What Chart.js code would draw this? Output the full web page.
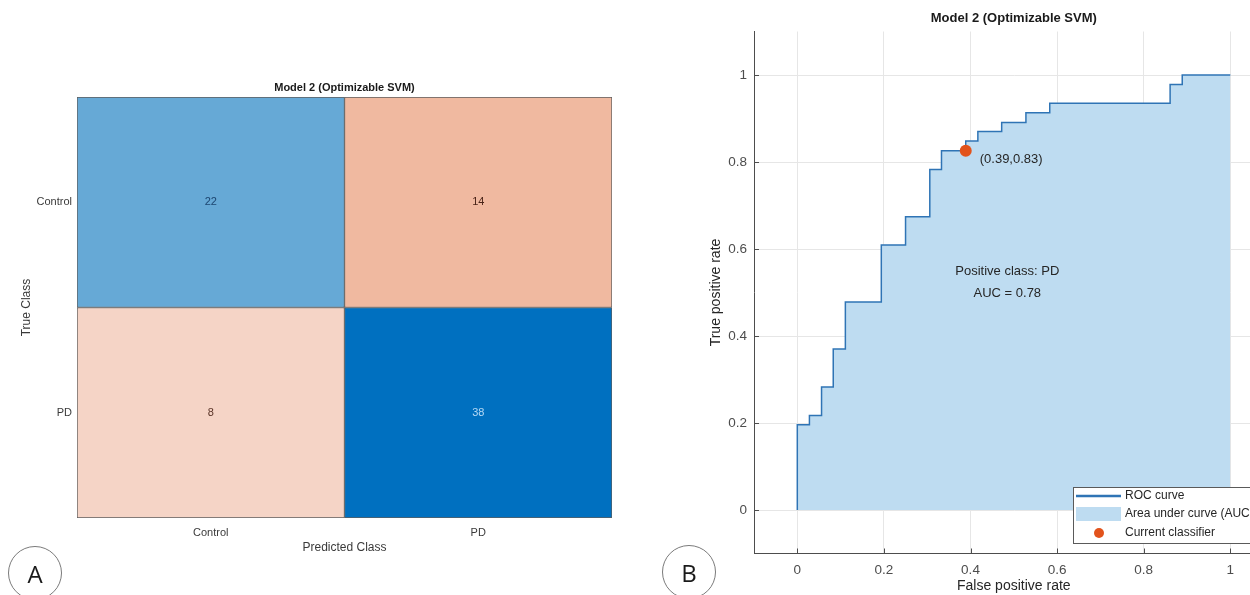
<!DOCTYPE html>
<html>
<head>
<meta charset="utf-8">
<script src="https://cdn.jsdelivr.net/npm/chart.js@4/dist/chart.umd.min.js"></script>
<style>
  html, body { margin: 0; padding: 0; width: 1250px; height: 595px; overflow: hidden; background: #fff; }
  #cmWrap { position: absolute; left: 0; top: 0; width: 640px; height: 595px; }
  #rocWrap { position: absolute; left: 690px; top: 0; width: 600px; height: 595px; }
  .tag {
    position: absolute; width: 54px; height: 54px; box-sizing: border-box;
    border: 1px solid #7a7a7a; border-radius: 50%;
    font: 24px "Open Sans", "Noto Sans", sans-serif; color: #1a1a1a;
    display: flex; align-items: center; justify-content: center;
  }
</style>
</head>
<body>
<div id="cmWrap"><canvas id="cm" width="640" height="595"></canvas></div>
<div id="rocWrap"><canvas id="roc" width="600" height="595"></canvas></div>
<div class="tag" style="left:8px;top:546px;">A</div>
<div class="tag" style="left:662px;top:545px;">B</div>

<script>
// ---------- data ----------
const classNames = ['Control', 'PD'];
// confusion matrix rows = true class, columns = predicted class
const trueControlCounts = [22, 14];
const truePDCounts = [8, 38];

// ROC curve corners (stepped), positive class PD
const rocFPR = [0, 0, 0.028, 0.056, 0.083, 0.111, 0.194, 0.25, 0.306, 0.333, 0.389, 0.417, 0.472, 0.528, 0.583, 0.861, 0.889, 1];
const rocTPR = [0, 0.196, 0.217, 0.283, 0.370, 0.478, 0.609, 0.674, 0.783, 0.826, 0.848, 0.870, 0.891, 0.913, 0.935, 0.978, 1, 1];
const currentFPR = 0.389;
const currentTPR = 0.826;
const aucValue = 0.78;
const positiveClass = 'PD';
const rocTicks = [0, 0.2, 0.4, 0.6, 0.8, 1];
const rocTickLabels = ['0', '0.2', '0.4', '0.6', '0.8', '1'];

const chartTitle = 'Model 2 (Optimizable SVM)';

// ---------- styles ----------
const FONT = '"Liberation Sans", Arial, Helvetica, sans-serif';
const cellColors = [['#66a9d6', '#f0b9a0'], ['#f5d4c6', '#0070c0']];
const cellTextColors = [['#1d4670', '#4a2418'], ['#5a3428', '#b4d8f4']];

Chart.defaults.font.family = FONT;

// ---------- confusion matrix ----------
const countRows = [trueControlCounts, truePDCounts];
const nCls = classNames.length;

const cellText = {
  id: 'cellText',
  afterDatasetsDraw(chart) {
    const ctx = chart.ctx;
    ctx.save();
    ctx.font = '11px ' + FONT;
    ctx.textAlign = 'center';
    ctx.textBaseline = 'middle';
    chart.data.datasets.forEach((ds, r) => {
      chart.getDatasetMeta(r).data.forEach((bar, c) => {
        const p = bar.getCenterPoint();
        ctx.fillStyle = cellTextColors[r][c];
        ctx.fillText(String(countRows[r][c]), p.x, p.y);
      });
    });
    const a = chart.chartArea;
    ctx.font = 'bold 11px ' + FONT;
    ctx.fillStyle = '#1a1a1a';
    ctx.textBaseline = 'alphabetic';
    ctx.fillText(chartTitle, (a.left + a.right) / 2, a.top - 6);
    ctx.restore();
  }
};

new Chart(document.getElementById('cm'), {
  type: 'bar',
  data: {
    labels: classNames,
    datasets: classNames.map((name, r) => ({
      label: name,
      data: classNames.map(() => [nCls - 1 - r, nCls - r]),
      backgroundColor: cellColors[r],
      borderColor: '#5e5e5e',
      borderWidth: 1,
      borderSkipped: false,
      barPercentage: 1,
      categoryPercentage: 1,
      grouped: false
    }))
  },
  options: {
    responsive: false,
    animation: false,
    events: [],
    layout: { padding: { left: 0, top: 97, right: 28, bottom: 0 } },
    plugins: { legend: { display: false }, tooltip: { enabled: false } },
    scales: {
      x: {
        type: 'category',
        grid: { display: false, drawTicks: false },
        border: { display: false },
        ticks: { color: '#3a3a3a', font: { size: 11 }, padding: 8 },
        title: { display: true, text: 'Predicted Class', color: '#3a3a3a', font: { size: 12 }, padding: { top: 0, bottom: 40 } },
        afterFit: s => { s.height = 77; }
      },
      y: {
        type: 'linear', min: 0, max: nCls,
        grid: { display: false, drawTicks: false },
        border: { display: false },
        afterBuildTicks: s => { s.ticks = classNames.map((_, i) => ({ value: nCls - 0.5 - i })); },
        ticks: { color: '#3a3a3a', font: { size: 11 }, padding: 5, callback: (v, i) => classNames[i] },
        title: { display: true, text: 'True Class', color: '#3a3a3a', font: { size: 12 }, padding: { top: 19 } },
        afterFit: s => { s.width = 77; }
      }
    }
  },
  plugins: [cellText]
});

// ---------- ROC curve ----------
const rocPoints = rocFPR.map((x, i) => ({ x: x, y: rocTPR[i] }));
const lineColor = '#2f74b5';
const areaColor = '#bedcf1';
const markerColor = '#e2531c';

const rocExtras = {
  id: 'rocExtras',
  afterDraw(chart) {
    const ctx = chart.ctx;
    const xs = chart.scales.x, ys = chart.scales.y;
    const a = chart.chartArea;
    ctx.save();

    // inward tick marks
    ctx.strokeStyle = '#4d4d4d';
    ctx.lineWidth = 1;
    ctx.beginPath();
    rocTicks.forEach(v => {
      const px = Math.round(xs.getPixelForValue(v)) + 0.5;
      ctx.moveTo(px, a.bottom); ctx.lineTo(px, a.bottom - 5);
      const py = Math.round(ys.getPixelForValue(v)) + 0.5;
      ctx.moveTo(a.left, py); ctx.lineTo(a.left + 5, py);
    });
    ctx.stroke();

    // title
    ctx.fillStyle = '#1a1a1a';
    ctx.font = 'bold 13px ' + FONT;
    ctx.textAlign = 'center';
    ctx.textBaseline = 'middle';
    ctx.fillText(chartTitle, (a.left + a.right) / 2, 18);

    // operating point label
    ctx.font = '13px ' + FONT;
    ctx.fillStyle = '#262626';
    ctx.textAlign = 'left';
    const mx = xs.getPixelForValue(currentFPR), my = ys.getPixelForValue(currentTPR);
    ctx.fillText('(' + currentFPR.toFixed(2) + ',' + currentTPR.toFixed(2) + ')', mx + 14, my + 9);

    // positive class & AUC
    ctx.textAlign = 'center';
    const cx = xs.getPixelForValue(0.485);
    ctx.fillText('Positive class: ' + positiveClass, cx, ys.getPixelForValue(0.549));
    ctx.fillText('AUC = ' + aucValue.toFixed(2), cx, ys.getPixelForValue(0.497));

    // legend box
    const bx = 383, by = 487, bw = 210, bh = 56;
    ctx.fillStyle = '#ffffff';
    ctx.fillRect(bx, by, bw, bh);
    ctx.strokeStyle = '#5a5a5a';
    ctx.lineWidth = 1;
    ctx.strokeRect(bx + 0.5, by + 0.5, bw, bh);
    ctx.strokeStyle = lineColor;
    ctx.lineWidth = 2.5;
    ctx.beginPath(); ctx.moveTo(bx + 3, by + 9); ctx.lineTo(bx + 48, by + 9); ctx.stroke();
    ctx.fillStyle = areaColor;
    ctx.fillRect(bx + 3, by + 20, 45, 14);
    ctx.fillStyle = markerColor;
    ctx.beginPath(); ctx.arc(bx + 26, by + 46, 5, 0, Math.PI * 2); ctx.fill();
    ctx.fillStyle = '#262626';
    ctx.font = '12px ' + FONT;
    ctx.textAlign = 'left';
    ctx.fillText(chart.data.datasets[1].label, bx + 52, by + 9);
    ctx.fillText('Area under curve (AUC)', bx + 52, by + 27);
    ctx.fillText(chart.data.datasets[0].label, bx + 52, by + 46);
    ctx.restore();
  }
};

new Chart(document.getElementById('roc'), {
  type: 'scatter',
  data: {
    datasets: [
      {
        label: 'Current classifier',
        data: [{ x: currentFPR, y: currentTPR }],
        pointRadius: 6,
        pointBackgroundColor: markerColor,
        pointBorderWidth: 0,
        order: 0
      },
      {
        label: 'ROC curve',
        type: 'line',
        data: rocPoints,
        borderColor: lineColor,
        borderWidth: 1.5,
        backgroundColor: areaColor,
        fill: 'origin',
        stepped: 'before',
        pointRadius: 0,
        order: 1
      }
    ]
  },
  options: {
    responsive: false,
    animation: false,
    events: [],
    layout: { padding: { left: 0, top: 31.5, right: 16.4, bottom: 0 } },
    plugins: { legend: { display: false }, tooltip: { enabled: false } },
    scales: {
      x: {
        type: 'linear', min: -0.1, max: 1.1,
        afterBuildTicks: s => { s.ticks = rocTicks.map(v => ({ value: v })); },
        grid: { color: '#e6e6e6', drawTicks: false },
        border: { display: true, color: '#4d4d4d', width: 1 },
        ticks: { color: '#4d4d4d', font: { size: 13.5 }, padding: 9, callback: (v, i) => rocTickLabels[i] },
        title: { display: true, text: 'False positive rate', color: '#262626', font: { size: 14 }, padding: { top: 0, bottom: 0 } },
        afterFit: s => { s.height = 41.5; }
      },
      y: {
        type: 'linear', min: -0.1, max: 1.1,
        afterBuildTicks: s => { s.ticks = rocTicks.map(v => ({ value: v })); },
        grid: { color: '#e6e6e6', drawTicks: false },
        border: { display: true, color: '#4d4d4d', width: 1 },
        ticks: { color: '#4d4d4d', font: { size: 13.5 }, padding: 7, callback: (v, i) => rocTickLabels[i] },
        title: { display: true, text: 'True positive rate', color: '#262626', font: { size: 14 }, padding: { top: 17.6 } },
        afterFit: s => { s.width = 64; }
      }
    }
  },
  plugins: [rocExtras]
});
</script>
</body>
</html>
